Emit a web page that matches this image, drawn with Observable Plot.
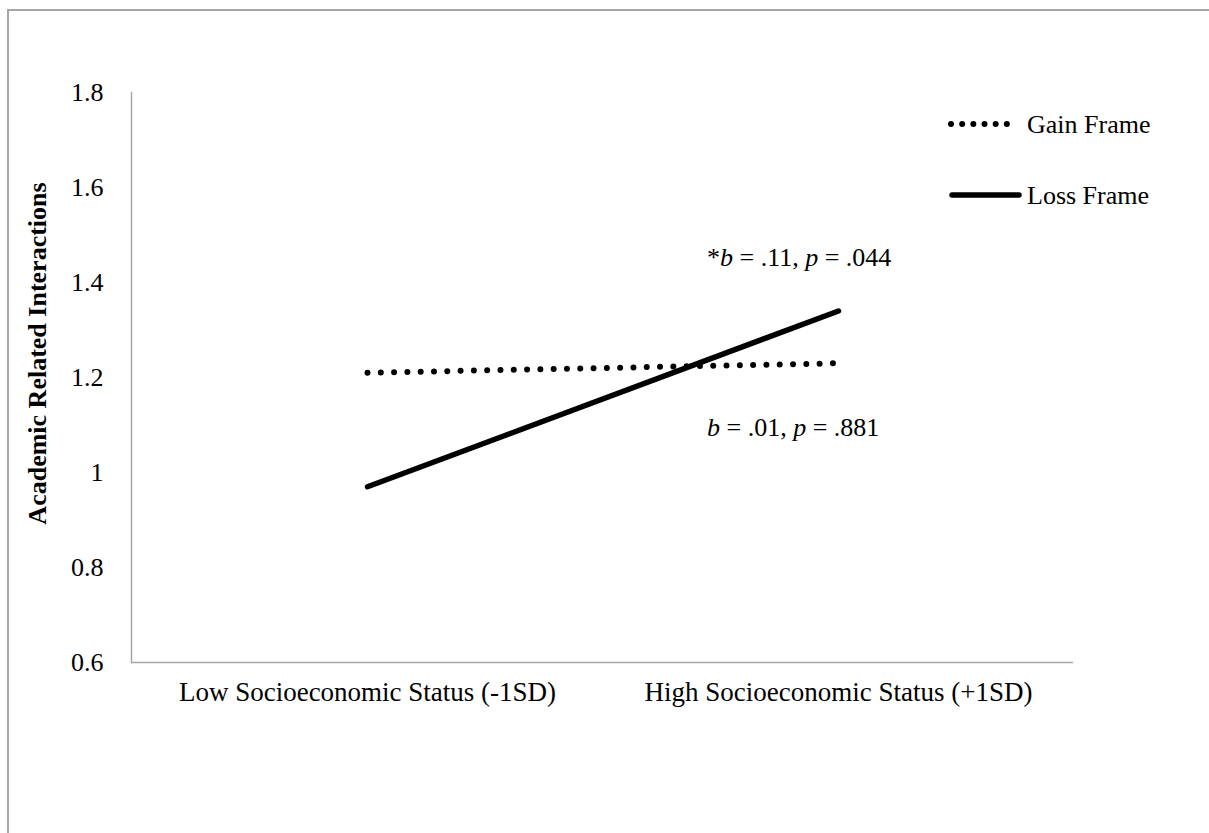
<!DOCTYPE html>
<html><head><meta charset="utf-8">
<script src="https://cdn.jsdelivr.net/npm/d3@7"></script>
<script src="https://cdn.jsdelivr.net/npm/@observablehq/plot@0.6"></script>
<style>
body{margin:0;background:#fff;font-family:"Liberation Serif","Times New Roman",serif;}
#wrap{position:relative;width:1209px;height:833px;overflow:hidden;background:#fff;}
#border{position:absolute;left:7px;top:9px;width:1300px;height:900px;border-top:2px solid #a6a6a6;border-left:2px solid #a6a6a6;}
#chart{position:absolute;left:0;top:0;}
#overlay{position:absolute;left:0;top:0;}
</style></head><body>
<div id="wrap"><div id="border"></div><div id="chart"></div>
<svg id="overlay" width="1209" height="833" font-family="'Liberation Serif', 'Times New Roman', serif" font-size="26">
  <line x1="951" y1="124" x2="1018" y2="124" stroke="#000" stroke-width="6" stroke-linecap="round" stroke-dasharray="0 11.17"/>
  <text x="1027" y="124" dominant-baseline="central">Gain Frame</text>
  <line x1="952" y1="195" x2="1019" y2="195" stroke="#000" stroke-width="5.5" stroke-linecap="round"/>
  <text x="1027" y="195" dominant-baseline="central">Loss Frame</text>
  <text x="707" y="257" dominant-baseline="central">*<tspan font-style="italic">b</tspan> = .11, <tspan font-style="italic">p</tspan> = .044</text>
  <text x="707" y="427" dominant-baseline="central"><tspan font-style="italic">b</tspan> = .01, <tspan font-style="italic">p</tspan> = .881</text>
</svg>
</div>
<script>
const categories = ["Low Socioeconomic Status (-1SD)", "High Socioeconomic Status (+1SD)"];
const seriesNames = ["Gain Frame", "Loss Frame"];
const gainFrame = [1.21, 1.23];
const lossFrame = [0.97, 1.34];
const yTicks = [0.6, 0.8, 1.0, 1.2, 1.4, 1.6, 1.8];
const yLabel = "Academic Related Interactions";

const gainData = categories.map((c, i) => ({cat: c, series: seriesNames[0], v: gainFrame[i]}));
const lossData = categories.map((c, i) => ({cat: c, series: seriesNames[1], v: lossFrame[i]}));

const chart = Plot.plot({
  width: 1209, height: 833,
  marginLeft: 131, marginRight: 136, marginTop: 92, marginBottom: 171,
  style: {fontFamily: '"Liberation Serif", "Times New Roman", serif', fontSize: "26px", background: "transparent", color: "#000"},
  x: {type: "point", domain: categories, padding: 0.5, label: null},
  y: {domain: [0.6, 1.8], label: null},
  marks: [
    Plot.frame({anchor: "left", stroke: "#a6a6a6", strokeWidth: 1.5}),
    Plot.ruleY([0.6], {stroke: "#a6a6a6", strokeWidth: 1.5}),
    Plot.axisY(yTicks, {tickSize: 0, tickPadding: 28, tickFormat: d => String(+d.toFixed(1)), fontSize: 26, label: null}),
    Plot.axisX({tickSize: 0, tickPadding: 19, fontSize: 27, label: null}),
    Plot.line(gainData, {x: "cat", y: "v", stroke: "#000", strokeWidth: 6, strokeDasharray: "0 13.3", strokeLinecap: "round"}),
    Plot.line(lossData, {x: "cat", y: "v", stroke: "#000", strokeWidth: 5.5, strokeLinecap: "round"}),
    Plot.text([yLabel], {frameAnchor: "left", textAnchor: "middle", rotate: -90, dx: -94, dy: -24, fontWeight: "bold", fontSize: 26})
  ]
});
document.getElementById("chart").appendChild(chart);
</script>
</body></html>
